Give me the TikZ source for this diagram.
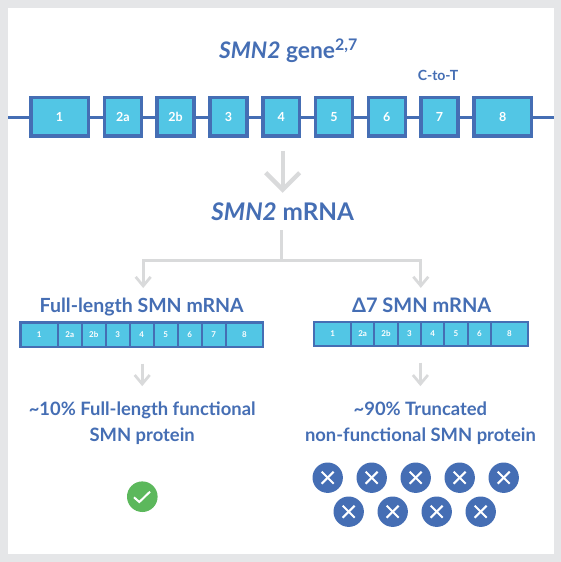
\documentclass[tikz,border=0pt]{standalone}
\usepackage{xcolor}
\usepackage{fontspec}
\setmainfont{Lato}
\usepackage{tikz}
\usetikzlibrary{arrows.meta,positioning,calc}
\definecolor{GeneBlue}{RGB}{69,110,180}
\definecolor{ExonCyan}{RGB}{82,198,229}
\definecolor{PageGrey}{RGB}{229,230,232}
\definecolor{ArrowGrey}{RGB}{217,218,219}
\definecolor{TickGreen}{RGB}{92,184,92}

\begin{document}
\begin{tikzpicture}[
    x=1pt, y=-1pt,
    exon/.style={draw=GeneBlue, fill=ExonCyan, line width=3.5pt, outer sep=0pt, inner sep=0pt, minimum width=36.9pt, minimum height=38.5pt, text=white, font=\fontsize{12.5}{14}\selectfont\bfseries},
    exonwide/.style={exon, minimum width=57.7pt},
    cell/.style={draw=GeneBlue, fill=ExonCyan, line width=2.2pt, outer sep=0pt, inner sep=0pt, minimum width=24pt, minimum height=24.2pt, text=white, font=\fontsize{8}{9}\selectfont\bfseries},
    cellwide/.style={cell, minimum width=37.4pt},
    dcell/.style={cell, minimum width=23.33pt, minimum height=23.4pt},
    dcellwide/.style={dcell, minimum width=36.7pt},
    heading/.style={anchor=base, inner sep=0pt, text=GeneBlue, font=\fontsize{19.5}{26}\selectfont\bfseries, align=center},
    protein/.style={heading, font=\fontsize{18.4}{26}\selectfont\bfseries},
    bigarrow/.style={-{Straight Barb[length=17pt,width=34pt]}, line width=4.3pt, draw=ArrowGrey},
    arrow/.style={-{Straight Barb[length=9pt,width=15pt]}, line width=2.7pt, draw=ArrowGrey},
    crossdot/.style={circle, fill=GeneBlue, minimum size=30.4pt, inner sep=0pt, outer sep=0pt, path picture={
        \draw[white, line width=2pt] ($(path picture bounding box.center)+(-6pt,-6pt)$) -- ($(path picture bounding box.center)+(6pt,6pt)$);
        \draw[white, line width=2pt] ($(path picture bounding box.center)+(-6pt,6pt)$) -- ($(path picture bounding box.center)+(6pt,-6pt)$);}},
    tickdot/.style={circle, fill=TickGreen, minimum size=30.6pt, inner sep=0pt, outer sep=0pt, path picture={
        \draw[white, line width=2pt] ($(path picture bounding box.center)+(-8.3pt,-0.6pt)$) -- ($(path picture bounding box.center)+(-3pt,-5.3pt)$) -- ($(path picture bounding box.center)+(7.7pt,5pt)$);}}
  ]
    \fill[PageGrey] (0,0) rectangle (561,562);
    \fill[white] (8,8) rectangle (554,554);
    \useasboundingbox (0,0) rectangle (561,562);

    \coordinate (lineL) at (8,117.3);
    \coordinate (lineR) at (554,117.3);
    \draw[GeneBlue, line width=3pt] (lineL) -- (lineR);

    \node[heading, font=\fontsize{22.8}{26}\selectfont\bfseries] (gene) at (288.5,58.3) {\textit{SMN2} gene\textsuperscript{2,7}};
    \node[exonwide, anchor=west] (e1) at (30.75,116.7) {1};
    \node[exon, right=15.9pt of e1] (e2a) {2a};
    \node[exon, right=15.9pt of e2a] (e2b) {2b};
    \node[exon, right=15.9pt of e2b] (e3) {3};
    \node[exon, right=15.9pt of e3] (e4) {4};
    \node[exon, right=15.9pt of e4] (e5) {5};
    \node[exon, right=15.9pt of e5] (e6) {6};
    \node[exon, right=15.9pt of e6] (e7) {7};
    \node[exonwide, right=15.9pt of e7] (e8) {8};
    \node[heading, font=\fontsize{14}{15}\selectfont\bfseries] (ctot) at (438,80) {C-to-T};

    \node[heading, font=\fontsize{24.3}{26}\selectfont\bfseries] (mrna) at (282.7,220.7) {\textit{SMN2} mRNA};
    \draw[bigarrow, shorten <=15pt, shorten >=10pt] (e4.south -| mrna) -- (mrna.north);

    \node[heading] (full) at (141.7,312.7) {Full-length SMN mRNA};
    \node[heading, font=\fontsize{20}{26}\selectfont\bfseries] (delta) at (421.7,312.7) {Δ7 SMN mRNA};

    \coordinate (split) at (281.7,260.7);
    \draw[ArrowGrey, line width=2.7pt, shorten <=9pt] (mrna.south -| split) -- (split);
    \draw[arrow, shorten >=10pt] (split) -| ([xshift=1.5pt]full.north);
    \draw[arrow, shorten >=10pt] (split) -| ([xshift=-0.9pt]delta.north);

    \node[cellwide, anchor=west] (f1) at (20.4,334.5) {1};
    \node[cell, right=0pt of f1] (f2a) {2a};
    \node[cell, right=0pt of f2a] (f2b) {2b};
    \node[cell, right=0pt of f2b] (f3) {3};
    \node[cell, right=0pt of f3] (f4) {4};
    \node[cell, right=0pt of f4] (f5) {5};
    \node[cell, right=0pt of f5] (f6) {6};
    \node[cell, right=0pt of f6] (f7) {7};
    \node[cellwide, right=0pt of f7] (f8) {8};

    \node[dcellwide, anchor=west] (d1) at (314.3,334) {1};
    \node[dcell, right=0pt of d1] (d2a) {2a};
    \node[dcell, right=0pt of d2a] (d2b) {2b};
    \node[dcell, right=0pt of d2b] (d3) {3};
    \node[dcell, right=0pt of d3] (d4) {4};
    \node[dcell, right=0pt of d4] (d5) {5};
    \node[dcell, right=0pt of d5] (d6) {6};
    \node[dcellwide, right=0pt of d6] (d8) {8};

    \node[protein] (fullprot) at (142.2,441) {\textasciitilde10\% Full-length functional\\SMN protein};
    \node[protein] (truncprot) at (420.4,441) {\textasciitilde90\% Truncated\\non-functional SMN protein};
    \draw[arrow, shorten <=17pt, shorten >=15pt] (f4.south -| fullprot) -- (fullprot.north);
    \draw[arrow, shorten <=17pt, shorten >=15pt] (d4.south -| truncprot) -- (truncprot.north);

    \node[tickdot] (tick) at (142.3,496.7) {};

    \node[crossdot] (x1) at (327.7,477.7) {};
    \node[crossdot, right=13.6pt of x1] (x2) {};
    \node[crossdot, right=13.6pt of x2] (x3) {};
    \node[crossdot, right=13.6pt of x3] (x4) {};
    \node[crossdot, right=13.6pt of x4] (x5) {};
    \node[crossdot] (x6) at (348.7,511.7) {};
    \node[crossdot, right=13.6pt of x6] (x7) {};
    \node[crossdot, right=13.6pt of x7] (x8) {};
    \node[crossdot, right=13.6pt of x8] (x9) {};
  \end{tikzpicture}
\end{document}
